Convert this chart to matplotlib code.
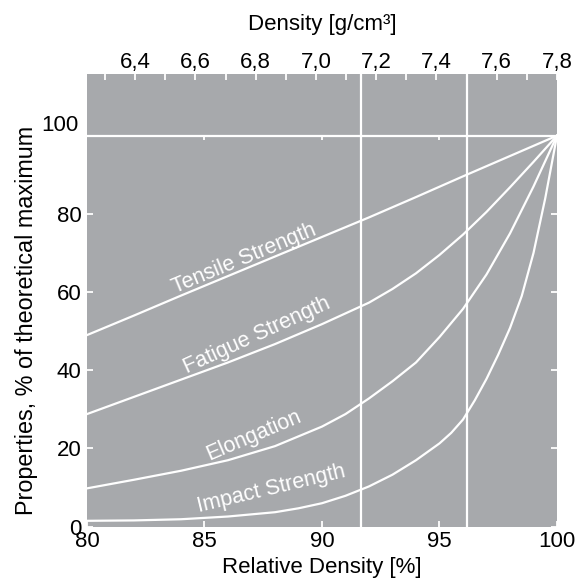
import matplotlib
matplotlib.use("Agg")
from matplotlib import pyplot as plt
import numpy as np

plt.rcParams["font.family"] = ["Liberation Sans", "DejaVu Sans"]

# relative density [%] and property values
tensile_x = [80, 82, 84, 86, 88, 90, 92, 94, 96, 98, 100]
tensile_y = [49.0, 54.0, 59.1, 64.1, 69.1, 74.1, 79.1, 84.3, 89.6, 94.8, 100]

fatigue_x = [80, 82, 84, 86, 88, 90, 92, 93, 94, 95, 96, 97, 98, 99, 100]
fatigue_y = [28.8, 33.2, 37.6, 42.0, 46.7, 51.8, 57.3, 60.8, 64.8, 69.5, 74.7, 80.5, 86.8, 93.3, 100]

elong_x = [80, 82, 84, 86, 88, 90, 91, 92, 93, 94, 95, 96, 97, 98, 99, 100]
elong_y = [9.8, 12.0, 14.3, 17.0, 20.6, 25.6, 28.8, 32.8, 37.2, 42.0, 48.5, 55.7, 64.5, 75.0, 87.0, 100]

impact_x = [80, 82, 84, 86, 88, 89, 90, 91, 92, 93, 94, 95, 95.5, 96, 96.5, 97, 97.5, 98, 98.5, 99, 99.5, 100]
impact_y = [1.5, 1.6, 1.9, 2.6, 3.7, 4.7, 6.0, 7.9, 10.3, 13.3, 17.0, 21.3, 24.0, 27.4, 32.3, 37.8, 44.0, 50.8, 59.0, 70.0, 84.0, 100]

curve_labels = ["Tensile Strength", "Fatigue Strength", "Elongation", "Impact Strength"]
label_pos = [(86.67, 68.4), (87.23, 48.8), (87.1, 23.2), (87.86, 9.7)]
label_rot = [22.5, 24.5, 23, 13.5]

full_density = 7.8
marked_densities = [7.15, 7.5]
density_major = [6.4, 6.6, 6.8, 7.0, 7.2, 7.4, 7.6, 7.8]
density_minor = [6.3, 6.5, 6.7, 6.9, 7.1, 7.3, 7.5, 7.7]

bg = "#a7a9ac"
fs = 16

fig = plt.figure(figsize=(5.83, 5.85), dpi=100)
ax = fig.add_axes([0.1492, 0.0997, 0.8062, 0.7733])
ax.set_facecolor(bg)
for s in ax.spines.values():
    s.set_visible(False)

ax.set_xlim(80, 100)
ax.set_ylim(1.5, 115.7)

for xs, ys in [(tensile_x, tensile_y), (fatigue_x, fatigue_y), (elong_x, elong_y), (impact_x, impact_y)]:
    ax.plot(xs, ys, color="white", lw=1.6, solid_joinstyle="round")

ax.axhline(100, color="white", lw=1.6)
for d in marked_densities:
    ax.axvline(d / full_density * 100, color="white", lw=1.6)

for txt, (px, py), r in zip(curve_labels, label_pos, label_rot):
    ax.text(px, py, txt, color="white", fontsize=15.5, rotation=r,
            rotation_mode="anchor", ha="center", va="center")

# ticks
ax.set_xticks([80, 85, 90, 95, 100])
ax.set_yticks([0, 20, 40, 60, 80])
ax.tick_params(axis="both", direction="in", color="white", length=4.5, width=1.3,
               labelsize=fs, right=True, pad=4)
ax.tick_params(axis="x", pad=3)
# small ticks hanging under the 100 line
ax.vlines([85, 90, 95], 98.9, 100, color="white", lw=1.3)
ax.annotate("100", xy=(0, 100), xycoords=("axes fraction", "data"),
            xytext=(-6, 7), textcoords="offset points", ha="right", va="center", fontsize=fs)

ax.set_xlabel("Relative Density [%]", fontsize=fs, labelpad=4)
ax.set_ylabel("Properties, % of theoretical maximum", fontsize=16.8)
ax.yaxis.set_label_coords(-0.105, 0.455)

top = ax.secondary_xaxis("top", functions=(lambda r: r / 100 * full_density,
                                           lambda d: d / full_density * 100))
top.set_xticks(density_major)
top.set_xticks(density_minor, minor=True)
top.set_xticklabels([f"{d:.1f}".replace(".", ",") for d in density_major])
top.tick_params(which="both", direction="in", color="white", length=4.5, width=1.3,
                labelsize=fs, pad=1)
for s in top.spines.values():
    s.set_visible(False)
top.set_xlabel("Density [g/cm³]", fontsize=fs, labelpad=16)

fig.savefig("out.png", dpi=100, facecolor="white")
